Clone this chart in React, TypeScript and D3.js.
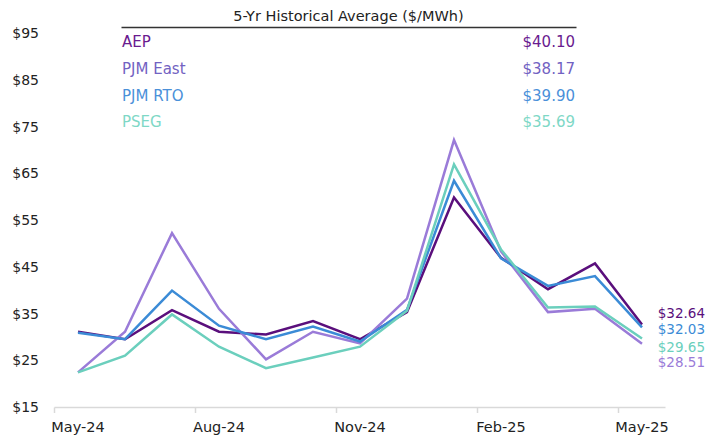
import React from "react";
import * as d3 from "d3";

const months = ["May-24","Jun-24","Jul-24","Aug-24","Sep-24","Oct-24","Nov-24","Dec-24","Jan-25","Feb-25","Mar-25","Apr-25","May-25"];
const tickMonths = ["May-24","Aug-24","Nov-24","Feb-25","May-25"];
const yTicks = [15,25,35,45,55,65,75,85,95];

const seriesNames = ["AEP","PJM East","PJM RTO","PSEG"];
const seriesColors = ["#5a0f7c","#9a7bd8","#3b8bd6","#6bcfbd"];
const legendTextColors = ["#6a1b8f","#7262c2","#4a90d9","#7ed8c6"];
const historicalAvg = [40.10, 38.17, 39.90, 35.69];

const aep = [31.1,29.5,35.7,31.1,30.5,33.4,29.5,35.3,59.8,46.9,40.2,45.7,32.64];
const pjmEast = [22.4,31.1,52.2,36.0,25.2,31.1,28.6,38.2,72.1,48.3,35.3,36.0,28.51];
const pjmRto = [30.9,29.5,39.9,32.4,29.5,32.2,29.0,35.8,63.4,46.8,40.9,43.0,32.03];
const pseg = [22.4,26.0,34.8,27.9,23.3,25.6,27.9,35.6,66.9,48.7,36.3,36.5,29.65];
const seriesValues = [aep, pjmEast, pjmRto, pseg];

// vertical offsets of the end labels from their last point (px)
const endLabelDy = [-6.2, 23.5, 7, 13.8];

const FONT = "'DejaVu Sans', sans-serif";

export default function App() {
  const W = 709, H = 441;
  const x = d3.scaleBand<string>().domain(months).range([54.5, 665.5]).padding(0);
  const y = d3.scaleLinear().domain([15, 95]).range([407, 33]);
  const cx = (m: string) => (x(m) as number) + x.bandwidth() / 2;
  const line = d3.line<number>().x((_, i) => cx(months[i])).y(d => y(d));

  return (
    <svg width={W} height={H} style={{ position: "absolute", left: 0, top: 0, background: "#fff" }} fontFamily={FONT}>
      {/* y axis labels */}
      {yTicks.map(t => (
        <text key={t} x={39} y={y(t)} dy="0.36em" textAnchor="end" fontSize={14} fill="#222">${t}</text>
      ))}
      {/* x axis */}
      <line x1={54.5} x2={665.5} y1={407.5} y2={407.5} stroke="#d9d9d9" strokeWidth={1.5} />
      {tickMonths.map(m => (
        <g key={m}>
          <line x1={(x(m) as number)} x2={(x(m) as number)} y1={407.5} y2={413} stroke="#d9d9d9" strokeWidth={1.5} />
          <text x={cx(m)} y={432} textAnchor="middle" fontSize={14.5} fill="#222">{m}</text>
        </g>
      ))}
      {/* lines */}
      {seriesValues.map((s, i) => (
        <path key={seriesNames[i]} d={line(s) || ""} fill="none" stroke={seriesColors[i]} strokeWidth={2.5} strokeLinejoin="miter" />
      ))}
      {/* end labels */}
      {seriesValues.map((s, i) => (
        <text key={"e" + i} x={705} y={y(s[s.length - 1]) + endLabelDy[i]} textAnchor="end" fontSize={13.5} fill={seriesColors[i]}>
          ${s[s.length - 1].toFixed(2)}
        </text>
      ))}
      {/* legend table */}
      <text x={348.5} y={20.5} textAnchor="middle" fontSize={14.5} fill="#222">5-Yr Historical Average ($/MWh)</text>
      <line x1={121.5} x2={576.5} y1={27.5} y2={27.5} stroke="#333" strokeWidth={1.5} />
      {seriesNames.map((n, i) => (
        <g key={"l" + n}>
          <text x={122} y={46.7 + i * 26.9} fontSize={15} fill={legendTextColors[i]}>{n}</text>
          <text x={575} y={46.7 + i * 26.9} textAnchor="end" fontSize={15} fill={legendTextColors[i]}>${historicalAvg[i].toFixed(2)}</text>
        </g>
      ))}
    </svg>
  );
}
